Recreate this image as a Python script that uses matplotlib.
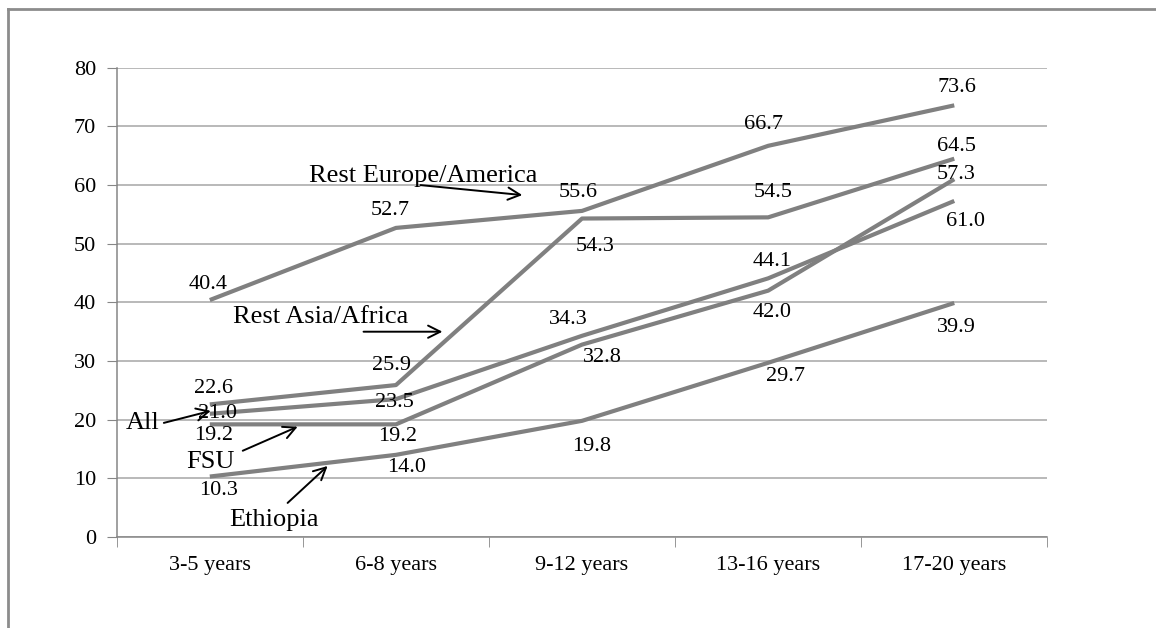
import matplotlib.pyplot as plt
from matplotlib.lines import Line2D

# data
categories = ["3-5 years", "6-8 years", "9-12 years", "13-16 years", "17-20 years"]
rest_europe_america = [40.4, 52.7, 55.6, 66.7, 73.6]
rest_asia_africa = [22.6, 25.9, 54.3, 54.5, 64.5]
all_groups = [21.0, 23.5, 34.3, 44.1, 57.3]
fsu = [19.2, 19.2, 32.8, 42.0, 61.0]
ethiopia = [10.3, 14.0, 19.8, 29.7, 39.9]

series = [rest_europe_america, rest_asia_africa, all_groups, fsu, ethiopia]

# label offsets in pixels (dx, dy), one per point
label_offsets = [
    [(-2, 16), (-6, 17), (-4, 18), (-5, 21), (3, 18)],
    [(4, 16), (-4, 20), (13, -28), (5, 25), (2, 12)],
    [(8, 0), (-1, -3), (-14, 16), (4, 17), (2, 26)],
    [(4, -11), (2, -12), (20, -13), (4, -22), (11, -42)],
    [(9, -14), (11, -13), (10, -26), (17, -14), (2, -25)],
]

SERIF = ["Liberation Serif", "DejaVu Serif"]
plt.rcParams["font.family"] = SERIF

fig = plt.figure(figsize=(11.56, 6.28), dpi=100)
ax = fig.add_axes([0.101, 0.145, 0.805, 0.747])

x = list(range(len(categories)))
for vals, offs in zip(series, label_offsets):
    ax.plot(x, vals, color="#808080", lw=3.0, solid_capstyle="butt", zorder=3)
    for xi, v, (dx, dy) in zip(x, vals, offs):
        ax.annotate(f"{v:.1f}", (xi, v), xytext=(dx, dy), textcoords="offset pixels",
                    ha="center", va="center", fontsize=16, color="black", zorder=5)

ax.set_xlim(-0.5, len(categories) - 0.5)
ax.set_ylim(0, 80)
ax.set_yticks(range(0, 81, 10))
ax.set_xticks(x)
ax.set_xticklabels(categories)
ax.set_xticks([i - 0.5 for i in range(len(categories) + 1)], minor=True)
ax.tick_params(axis="x", which="major", length=0, pad=14, labelsize=16)
ax.tick_params(axis="x", which="minor", length=7, color="#868686", direction="out")
ax.tick_params(axis="y", length=7, color="#868686", direction="out", pad=8, labelsize=16)

ax.grid(axis="y", color="#a6a6a6", lw=1.1, zorder=0)
for side in ["top", "right"]:
    ax.spines[side].set_visible(False)
for side in ["left", "bottom"]:
    ax.spines[side].set_color("#868686")
    ax.spines[side].set_linewidth(1.1)

# series name callouts with arrows
callouts = [
    ("Rest Europe/America", (1.148, 61.6), (1.132, 60.0), (1.679, 58.3)),
    ("Rest Asia/Africa", (0.595, 37.5), (0.826, 35.0), (1.25, 35.0)),
    ("All", (-0.359, 19.45), (-0.247, 19.45), (0.005, 21.5)),
    ("FSU", (0.005, 12.8), (0.177, 14.7), (0.472, 18.8)),
    ("Ethiopia", (0.343, 2.9), (0.418, 5.8), (0.633, 12.1)),
]
for name, txt_pos, tail, head in callouts:
    ax.text(txt_pos[0], txt_pos[1], name, ha="center", va="center", fontsize=19,
            color="black", zorder=6, clip_on=False)
    ax.annotate("", xy=head, xytext=tail,
                arrowprops=dict(arrowstyle="->", color="black", lw=1.4,
                                mutation_scale=22, shrinkA=0, shrinkB=0),
                zorder=6, annotation_clip=False)

# chart frame (left and top edges visible)
fig.add_artist(Line2D([0.0065, 0.0065], [0.0, 0.986], color="#8c8c8c", lw=2,
                      transform=fig.transFigure))
fig.add_artist(Line2D([0.0065, 1.0], [0.986, 0.986], color="#8c8c8c", lw=2,
                      transform=fig.transFigure))

fig.savefig("out.png", dpi=100)
